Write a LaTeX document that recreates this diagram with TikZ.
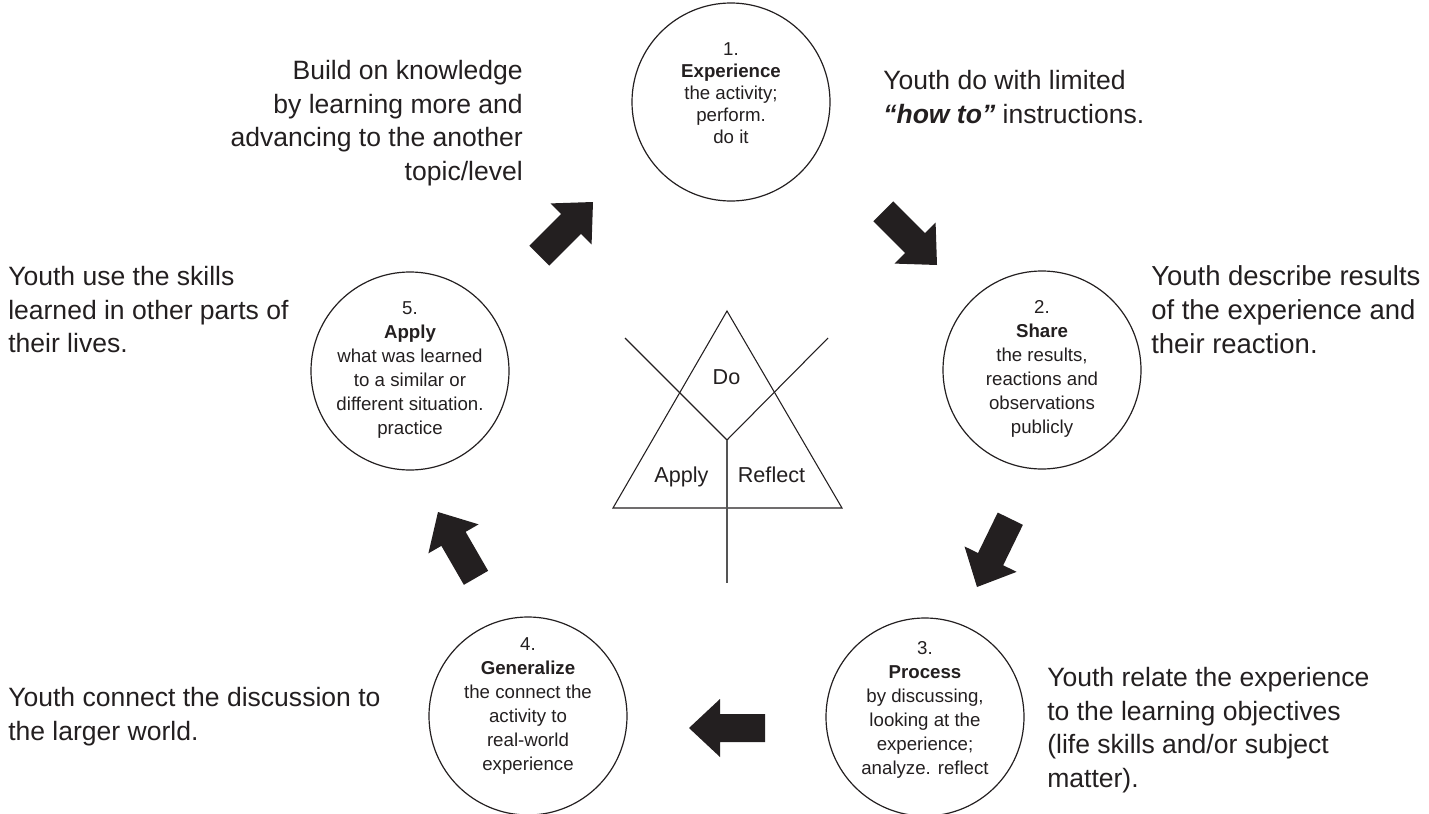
\documentclass[tikz,border=0pt]{standalone}
\usepackage{fontspec}
\setmainfont{Liberation Sans}
\definecolor{ink}{HTML}{231F20}
\definecolor{stem}{HTML}{555555}
\newcommand{\cyclearrow}[3]{%
  \fill[blockarrow, shift={(#1,#2)}, rotate=#3]
    (0,0) -- (-31,29) -- (-31,14) -- (-76,14) -- (-76,-14) -- (-31,-14) -- (-31,-29) -- cycle;}
\tikzset{
  stage/.style={circle, draw=ink, line width=0.9pt, minimum size=148.5pt, inner sep=0pt},
  stagetext/.style={text=ink, align=center, font=\fontsize{14pt}{18pt}\selectfont, inner sep=0pt},
  sidetext/.style={text=ink, font=\fontsize{19.9pt}{25.3pt}\selectfont, inner sep=0pt},
  tritext/.style={text=ink, font=\fontsize{16.2pt}{19pt}\selectfont, inner sep=0pt, anchor=base},
  triline/.style={draw=ink, line width=0.8pt},
  stemline/.style={draw=stem, line width=1pt},
  blockarrow/.style={fill=ink},
}
\begin{document}
\begin{tikzpicture}[x=0.75pt, y=-0.75pt]
\useasboundingbox (0,0) rectangle (1429,814);
% stage circles
\node[stage] (c1) at (731,102) {};
\node[stage] (c2) at (1042,370) {};
\node[stage] (c3) at (925,717) {};
\node[stage] (c4) at (528,716) {};
\node[stage] (c5) at (410,371) {};
\node[stagetext, font=\fontsize{14pt}{16.6pt}\selectfont] (s1) at (731,93) {1.\\\textbf{Experience}\\the activity;\\perform.\\do it};
\node[stagetext] (s2) at (1042,369) {2.\\\textbf{Share}\\the results,\\reactions and\\observations\\publicly};
\node[stagetext] (s3) at (925,710) {3.\\\textbf{Process}\\by discussing,\\looking at the\\experience;\\analyze. reflect};
\node[stagetext] (s4) at (528,706) {4.\\\textbf{Generalize}\\the connect the\\activity to\\real-world\\experience};
\node[stagetext] (s5) at (410,370) {5.\\\textbf{Apply}\\what was learned\\to a similar or\\different situation.\\practice};
% block arrows
\cyclearrow{593}{202}{45}
\cyclearrow{937}{265}{-45}
\cyclearrow{977}{587}{-116}
\cyclearrow{689}{728}{180}
\cyclearrow{438}{512}{120}
% triangle
\coordinate (apex) at (727,311);
\coordinate (bl) at (613,508);
\coordinate (br) at (842,508);
\coordinate (hub) at (727,440);
\coordinate (lu) at (625,338);
\coordinate (ru) at (828,338);
\coordinate (foot) at (727,583);
\draw[triline] (apex) -- (br) -- (bl) -- cycle;
\draw[triline] (lu) -- (hub) -- (ru);
\draw[stemline] (hub) -- (foot);
\node[tritext] (do) at (726.5,384) {Do};
\node[tritext] (apply) at (681.5,482) {Apply};
\node[tritext] (reflect) at (771.5,482) {Reflect};
% side texts
\node[sidetext, align=right, anchor=north east] (build) at (523,60) {Build on knowledge\\by learning more and\\advancing to the another\\topic/level};
\node[sidetext, align=left, anchor=north west] (y1) at (883,70) {Youth do with limited\\\textbf{\textit{“how to”}} instructions.};
\node[sidetext, align=left, anchor=north west] (y5) at (8,266) {Youth use the skills\\learned in other parts of\\their lives.};
\node[sidetext, align=left, anchor=north west, font=\fontsize{20.6pt}{25.6pt}\selectfont] (y2) at (1151,265) {Youth describe results\\of the experience and\\their reaction.};
\node[sidetext, align=left, anchor=north west] (y3) at (1047,667) {Youth relate the experience\\to the learning objectives\\(life skills and/or subject\\matter).};
\node[sidetext, align=left, anchor=north west] (y4) at (8,687) {Youth connect the discussion to\\the larger world.};
\end{tikzpicture}
\end{document}
